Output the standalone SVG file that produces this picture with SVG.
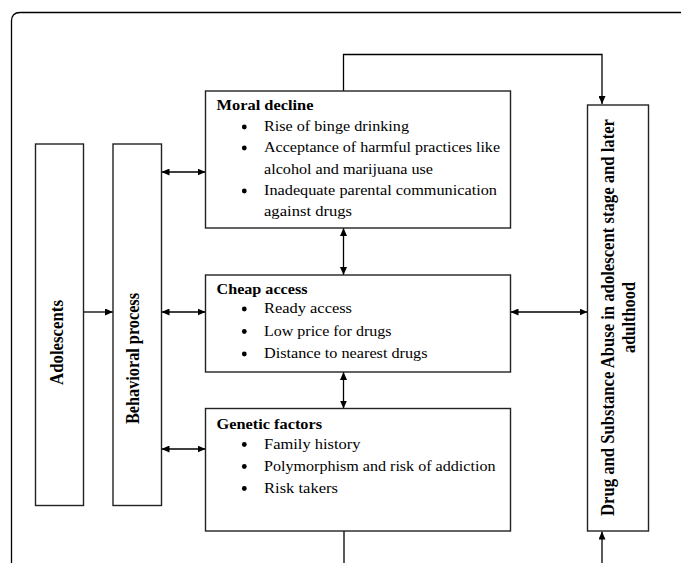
<svg xmlns="http://www.w3.org/2000/svg" width="681" height="563" viewBox="0 0 681 563">
<defs>
<marker id="ah" markerUnits="userSpaceOnUse" markerWidth="8" markerHeight="7" refX="8" refY="3.5" orient="auto-start-reverse">
<path d="M0,0 L8,3.5 L0,7 z" fill="#000"/>
</marker>
<style>
.box{fill:#fff;stroke:#222;stroke-width:1.4}
.ln{fill:none;stroke:#000;stroke-width:1.3}
.t{font-family:"Liberation Serif","Times New Roman",serif;font-size:15px;fill:#000}
.b{font-weight:bold}
.v{font-family:"Liberation Serif","Times New Roman",serif;font-size:16px;font-weight:bold;fill:#000;text-anchor:middle}
</style>
</defs>
<rect width="681" height="563" fill="#fff"/>
<path d="M11.5 563 V21 Q11.5 12.5 20 12.5 H681" fill="none" stroke="#000" stroke-width="1.3"/>

<g id="connectors">
<path class="ln" d="M343.5 91 V54.5 H602 V104" marker-end="url(#ah)"/>
<path class="ln" d="M344 531 V563"/>
<path class="ln" d="M602 563 V531.5" marker-end="url(#ah)"/>
<path class="ln" d="M83.5 312 H113" marker-end="url(#ah)"/>
<path class="ln" d="M161.5 172 H205.5" marker-start="url(#ah)" marker-end="url(#ah)"/>
<path class="ln" d="M161.5 312 H205.5" marker-start="url(#ah)" marker-end="url(#ah)"/>
<path class="ln" d="M161.5 449 H205.5" marker-start="url(#ah)" marker-end="url(#ah)"/>
<path class="ln" d="M510.5 312 H587.5" marker-start="url(#ah)" marker-end="url(#ah)"/>
<path class="ln" d="M343.5 228 V275" marker-start="url(#ah)" marker-end="url(#ah)"/>
<path class="ln" d="M343.5 372 V408.5" marker-start="url(#ah)" marker-end="url(#ah)"/>
</g>

<g id="adolescents">
<rect class="box" x="35.5" y="144" width="48" height="361.5"/>
<text class="v" transform="translate(62.5,342.5) rotate(-90) scale(1,1.12)" textLength="85" lengthAdjust="spacingAndGlyphs">Adolescents</text>
</g>

<g id="behavioral">
<rect class="box" x="113" y="144" width="48.5" height="361.5"/>
<text class="v" transform="translate(139,358.5) rotate(-90) scale(1,1.12)" textLength="131" lengthAdjust="spacingAndGlyphs">Behavioral process</text>
</g>

<g id="moral">
<rect class="box" x="205.5" y="91" width="305" height="137"/>
<text class="t b" x="216.5" y="109.5" textLength="97" lengthAdjust="spacingAndGlyphs">Moral decline</text>
<circle cx="244.3" cy="127" r="2.4"/>
<text class="t" x="264" y="131" textLength="145" lengthAdjust="spacingAndGlyphs">Rise of binge drinking</text>
<circle cx="244.3" cy="148" r="2.4"/>
<text class="t" x="264" y="152" textLength="236" lengthAdjust="spacingAndGlyphs">Acceptance of harmful practices like</text>
<text class="t" x="264" y="174" textLength="169" lengthAdjust="spacingAndGlyphs">alcohol and marijuana use</text>
<circle cx="244.3" cy="191" r="2.4"/>
<text class="t" x="264" y="195" textLength="233" lengthAdjust="spacingAndGlyphs">Inadequate parental communication</text>
<text class="t" x="264" y="215.5" textLength="88" lengthAdjust="spacingAndGlyphs">against drugs</text>
</g>

<g id="cheap">
<rect class="box" x="205.5" y="275" width="305" height="97"/>
<text class="t b" x="216.5" y="294" textLength="91" lengthAdjust="spacingAndGlyphs">Cheap access</text>
<circle cx="244.3" cy="309" r="2.4"/>
<text class="t" x="264" y="313" textLength="88" lengthAdjust="spacingAndGlyphs">Ready access</text>
<circle cx="244.3" cy="331.5" r="2.4"/>
<text class="t" x="264" y="335.5" textLength="127.5" lengthAdjust="spacingAndGlyphs">Low price for drugs</text>
<circle cx="244.3" cy="354" r="2.4"/>
<text class="t" x="264" y="358" textLength="163.5" lengthAdjust="spacingAndGlyphs">Distance to nearest drugs</text>
</g>

<g id="genetic">
<rect class="box" x="205.5" y="408.5" width="305" height="122.5"/>
<text class="t b" x="216.5" y="428.5" textLength="105.6" lengthAdjust="spacingAndGlyphs">Genetic factors</text>
<circle cx="244.3" cy="444.5" r="2.4"/>
<text class="t" x="264" y="448.5" textLength="96.5" lengthAdjust="spacingAndGlyphs">Family history</text>
<circle cx="244.3" cy="466.5" r="2.4"/>
<text class="t" x="264" y="470.5" textLength="231.5" lengthAdjust="spacingAndGlyphs">Polymorphism and risk of addiction</text>
<circle cx="244.3" cy="488.5" r="2.4"/>
<text class="t" x="264" y="492.5" textLength="74" lengthAdjust="spacingAndGlyphs">Risk takers</text>
</g>

<g id="outcome">
<rect class="box" x="587.5" y="105" width="61" height="426"/>
<text class="v" transform="translate(614,317.5) rotate(-90) scale(1,1.12)" textLength="397" lengthAdjust="spacingAndGlyphs">Drug and Substance Abuse in adolescent stage and later</text>
<text class="v" transform="translate(635,317.5) rotate(-90) scale(1,1.12)" textLength="71" lengthAdjust="spacingAndGlyphs">adulthood</text>
</g>
</svg>
